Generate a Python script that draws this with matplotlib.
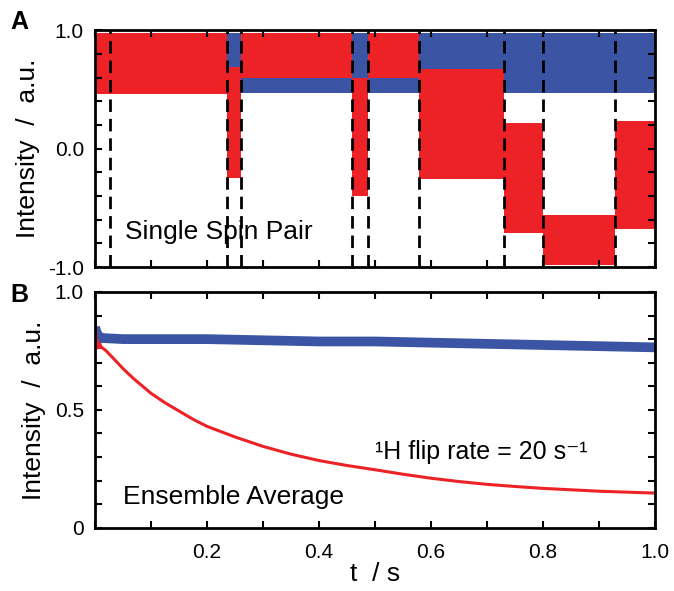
import numpy as np
import matplotlib
matplotlib.use('Agg')
import matplotlib.pyplot as plt

plt.rcParams['font.family'] = ['Liberation Sans', 'DejaVu Sans']
plt.rcParams['mathtext.default'] = 'regular'

RED = '#ec2227'
BLUE = '#3b54a4'

# panel A: flip times (s) and envelopes of the fast oscillation per segment
flips = [0.0, 0.027, 0.236, 0.261, 0.459, 0.4875, 0.579, 0.730, 0.800, 0.929, 1.0]
blue_lo = [0.47, 0.47, 0.67, 0.47, 0.57, 0.47, 0.47, 0.47, 0.47, 0.47]
blue_hi = [0.98, 0.98, 0.98, 0.98, 0.98, 0.98, 0.98, 0.98, 0.98, 0.98]
red_lo = [0.46, 0.46, -0.25, 0.60, -0.40, 0.60, -0.26, -0.71, -0.98, -0.68]
red_hi = [0.98, 0.98, 0.69, 0.98, 0.60, 0.98, 0.67, 0.22, -0.56, 0.23]
dashed_t = flips[1:-1]

# panel B: ensemble average
blue_t = [0.0, 0.004, 0.01, 0.05, 0.085, 0.1, 0.2, 0.3, 0.4, 0.5, 0.6, 0.7, 0.8, 0.9, 1.0]
blue_v = [0.85, 0.82, 0.805, 0.80, 0.80, 0.80, 0.80, 0.795, 0.79, 0.79, 0.785, 0.78, 0.775, 0.77, 0.765]
red_t = [0.0, 0.0005, 0.002, 0.006, 0.012, 0.02, 0.03, 0.04, 0.05, 0.06, 0.07, 0.08, 0.09, 0.1,
         0.125, 0.15, 0.175, 0.2, 0.25, 0.3, 0.35, 0.4, 0.45, 0.5, 0.55, 0.6, 0.65, 0.7,
         0.75, 0.8, 0.85, 0.9, 0.95, 1.0]
red_v = [1.0, 0.86, 0.80, 0.78, 0.765, 0.75, 0.725, 0.70, 0.675, 0.652, 0.63, 0.61, 0.59, 0.57,
         0.53, 0.495, 0.46, 0.43, 0.385, 0.345, 0.312, 0.285, 0.264, 0.246, 0.227, 0.21, 0.196, 0.184,
         0.175, 0.167, 0.161, 0.155, 0.151, 0.147]
# oscillating wedge right after t=0
wedge_t = [0.0, 0.004, 0.008, 0.012]
wedge_hi = [0.88, 0.85, 0.81, 0.77]
wedge_lo = [0.75, 0.76, 0.76, 0.76]

xticks = np.round(np.arange(0, 1.01, 0.1), 1)
xlabels_b = ['', '', '0.2', '', '0.4', '', '0.6', '', '0.8', '', '1.0']
yticks_a = np.round(np.arange(-1, 1.01, 0.2), 1)
ylabels_a = ['-1.0', '', '', '', '', '0.0', '', '', '', '', '1.0']
yticks_b = np.round(np.arange(0, 1.01, 0.1), 1)
ylabels_b = ['0', '', '', '', '', '0.5', '', '', '', '', '1.0']

fig = plt.figure(figsize=(6.74, 5.91), dpi=100)
axA = fig.add_axes([0.141, 0.548, 0.831, 0.401])
axB = fig.add_axes([0.141, 0.107, 0.831, 0.399])

starts = np.array(flips[:-1])
widths = np.diff(flips)
axA.bar(starts, np.array(blue_hi) - np.array(blue_lo), bottom=blue_lo, width=widths,
        align='edge', color=BLUE, linewidth=0)
axA.bar(starts, np.array(red_hi) - np.array(red_lo), bottom=red_lo, width=widths,
        align='edge', color=RED, linewidth=0)
for t in dashed_t:
    axA.axvline(t, color='black', lw=2, ls=(0, (4.5, 2.5)))
axA.set_xlim(0, 1)
axA.set_ylim(-1, 1)
axA.set_xticks(xticks)
axA.set_xticklabels([])
axA.set_yticks(yticks_a)
axA.set_yticklabels(ylabels_a)
axA.text(0.054, -0.70, 'Single Spin Pair', fontsize=19, va='center')
axA.set_ylabel('Intensity  /  a.u.', fontsize=19, labelpad=6)

axB.plot(blue_t, blue_v, color=BLUE, lw=7, solid_capstyle='butt')
axB.fill_between(wedge_t, wedge_lo, wedge_hi, color=RED, lw=0)
axB.plot(red_t, red_v, color=RED, lw=2.2)
axB.set_xlim(0, 1)
axB.set_ylim(0, 1)
axB.set_xticks(xticks)
axB.set_xticklabels(xlabels_b)
axB.set_yticks(yticks_b)
axB.set_yticklabels(ylabels_b)
axB.text(0.05, 0.13, 'Ensemble Average', fontsize=19, va='center')
axB.text(0.50, 0.32, '\u00b9H flip rate = 20 s\u207b\u00b9', fontsize=18, va='center',
         family=['Liberation Sans', 'DejaVu Sans'])
axB.set_ylabel('Intensity  /  a.u.', fontsize=19, labelpad=6)
axB.set_xlabel('t  / s', fontsize=19, labelpad=0)

for ax in (axA, axB):
    for s in ax.spines.values():
        s.set_linewidth(2)
        s.set_zorder(5)
    ax.tick_params(direction='in', top=True, right=True, length=5, width=1.5,
                   labelsize=15, pad=8)
    ax.tick_params(axis='x', pad=11)

fig.text(0.015, 0.962, 'A', fontsize=18, fontweight='bold', va='center')
fig.text(0.015, 0.500, 'B', fontsize=18, fontweight='bold', va='center')

fig.savefig('out.png', dpi=100)
